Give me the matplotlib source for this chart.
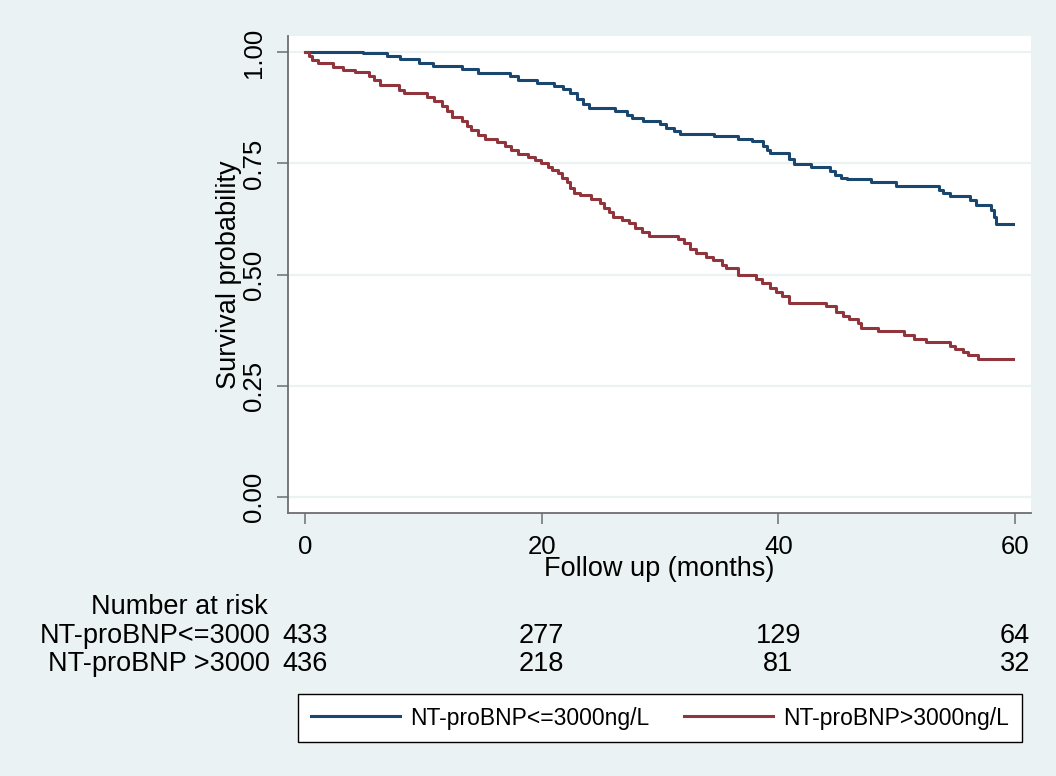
import matplotlib.pyplot as plt
from matplotlib.transforms import blended_transform_factory

plt.rcParams['font.family'] = ['Liberation Sans', 'DejaVu Sans']

# Kaplan-Meier steps (time of drop, survival after drop)
low_t = [0, 4.9, 6.9, 8.0, 9.6, 10.8, 13.3, 14.6, 17.3, 18.0, 19.6, 21.0, 21.8, 22.4,
         23.0, 23.5, 24.0, 26.2, 27.2, 27.6, 28.6, 30.0, 30.5, 31.2, 31.7, 34.6, 36.6,
         37.8, 38.7, 39.0, 39.3, 40.9, 41.3, 42.8, 44.4, 44.8, 45.3, 45.8, 47.8, 49.9,
         53.6, 53.9, 54.5, 56.2, 56.7, 58.0, 58.2, 58.4, 59.8]
low_s = [1.0, 0.998, 0.991, 0.985, 0.977, 0.970, 0.962, 0.953, 0.946, 0.937, 0.931, 0.925,
         0.917, 0.908, 0.896, 0.884, 0.874, 0.868, 0.860, 0.852, 0.846, 0.838, 0.830, 0.822,
         0.816, 0.812, 0.806, 0.800, 0.790, 0.780, 0.773, 0.760, 0.748, 0.741, 0.733, 0.725,
         0.718, 0.714, 0.708, 0.700, 0.690, 0.683, 0.676, 0.667, 0.657, 0.645, 0.630, 0.613,
         0.613]

high_t = [0, 0.3, 0.6, 1.1, 2.4, 3.2, 4.2, 5.4, 5.8, 6.3, 7.9, 8.4, 10.3, 10.9, 11.6, 12.0,
          12.4, 13.3, 13.7, 14.0, 14.6, 15.2, 16.2, 16.9, 17.4, 18.0, 18.8, 19.4, 19.9, 20.5,
          20.9, 21.4, 21.7, 22.1, 22.4, 22.7, 23.2, 24.2, 24.9, 25.3, 25.7, 26.0, 26.8, 27.4,
          27.9, 28.5, 29.1, 31.5, 32.0, 32.5, 33.0, 33.9, 34.5, 35.2, 35.6, 36.6, 38.1, 38.6,
          39.3, 39.8, 40.3, 40.9, 44.0, 44.9, 45.5, 46.0, 46.7, 47.0, 48.4, 50.6, 51.5, 52.5,
          54.5, 54.9, 55.6, 56.0, 56.9, 59.8]
high_s = [1.0, 0.992, 0.984, 0.976, 0.967, 0.961, 0.955, 0.947, 0.939, 0.926, 0.915, 0.909,
          0.900, 0.890, 0.880, 0.868, 0.855, 0.845, 0.835, 0.826, 0.815, 0.806, 0.799, 0.790,
          0.780, 0.772, 0.765, 0.758, 0.750, 0.742, 0.735, 0.728, 0.718, 0.708, 0.695, 0.684,
          0.679, 0.670, 0.660, 0.650, 0.640, 0.630, 0.623, 0.615, 0.605, 0.595, 0.586, 0.580,
          0.570, 0.558, 0.548, 0.540, 0.532, 0.522, 0.514, 0.500, 0.490, 0.480, 0.470, 0.460,
          0.452, 0.435, 0.428, 0.415, 0.407, 0.400, 0.390, 0.380, 0.373, 0.363, 0.354, 0.347,
          0.340, 0.332, 0.325, 0.319, 0.310, 0.310]

risk_times = [0, 20, 40, 60]
risk_low = [433, 277, 129, 64]
risk_high = [436, 218, 81, 32]
row_labels = ['NT-proBNP<=3000', 'NT-proBNP >3000']
legend_labels = ['NT-proBNP<=3000ng/L', 'NT-proBNP>3000ng/L']
y_ticks = [0, 0.25, 0.5, 0.75, 1.0]
x_ticks = [0, 20, 40, 60]

bg = '#EAF2F3'
blue = '#1A476F'
red = '#90353B'

fig = plt.figure(figsize=(10.56, 7.76), dpi=100, facecolor=bg)
ax = fig.add_axes([288 / 1056, 1 - 513 / 776, 743 / 1056, 477 / 776])
ax.set_facecolor('white')

for y in y_ticks:
    ax.axhline(y, color=bg, lw=1.6, zorder=1)

l1, = ax.plot(low_t, low_s, drawstyle='steps-post', color=blue, lw=2.2, zorder=3)
l2, = ax.plot(high_t, high_s, drawstyle='steps-post', color=red, lw=2.2, zorder=3)

ax.set_xlim(-1.44, 61.35)
ax.set_ylim(-0.037, 1.037)
ax.set_xticks(x_ticks)
ax.set_yticks(y_ticks)
ax.set_yticklabels([f'{v:.2f}' for v in y_ticks], rotation=90, va='center')
ax.tick_params(axis='both', length=8, width=1.1, color='#6E6E6E', labelsize=18.5,
               pad=8)
for side in ['top', 'right']:
    ax.spines[side].set_visible(False)
for side in ['left', 'bottom']:
    ax.spines[side].set_color('#6E6E6E')
    ax.spines[side].set_linewidth(1.3)

ax.set_xlabel('Follow up (months)', fontsize=19.5, labelpad=-2)
ax.set_ylabel('Survival probability', fontsize=19.5)
ax.yaxis.set_label_coords(-0.062, 0.5)

# number at risk table
tr = blended_transform_factory(ax.transData, fig.transFigure)
fig.text(268 / 1056, 1 - 607 / 776, 'Number at risk', ha='right', va='center',
         fontsize=19.5)
for row, (lab, vals) in enumerate(zip(row_labels, [risk_low, risk_high])):
    yf = 1 - (636 + 28 * row) / 776
    fig.text(270 / 1056, yf, lab, ha='right', va='center', fontsize=19.5)
    for t, n in zip(risk_times, vals):
        ax.text(t, yf, str(n), transform=tr, ha='center', va='center', fontsize=19.5,
                clip_on=False)

leg = fig.legend([l1, l2], legend_labels, loc='center',
                 bbox_to_anchor=(660 / 1056, 1 - 718 / 776), ncol=2, fontsize=16.5,
                 frameon=True, fancybox=False, edgecolor='black', framealpha=1,
                 handlelength=3.9, columnspacing=1.5, handletextpad=0.45,
                 borderpad=0.55, borderaxespad=0)
leg.get_frame().set_linewidth(1.0)

fig.savefig('out.png', dpi=100, facecolor=bg)
